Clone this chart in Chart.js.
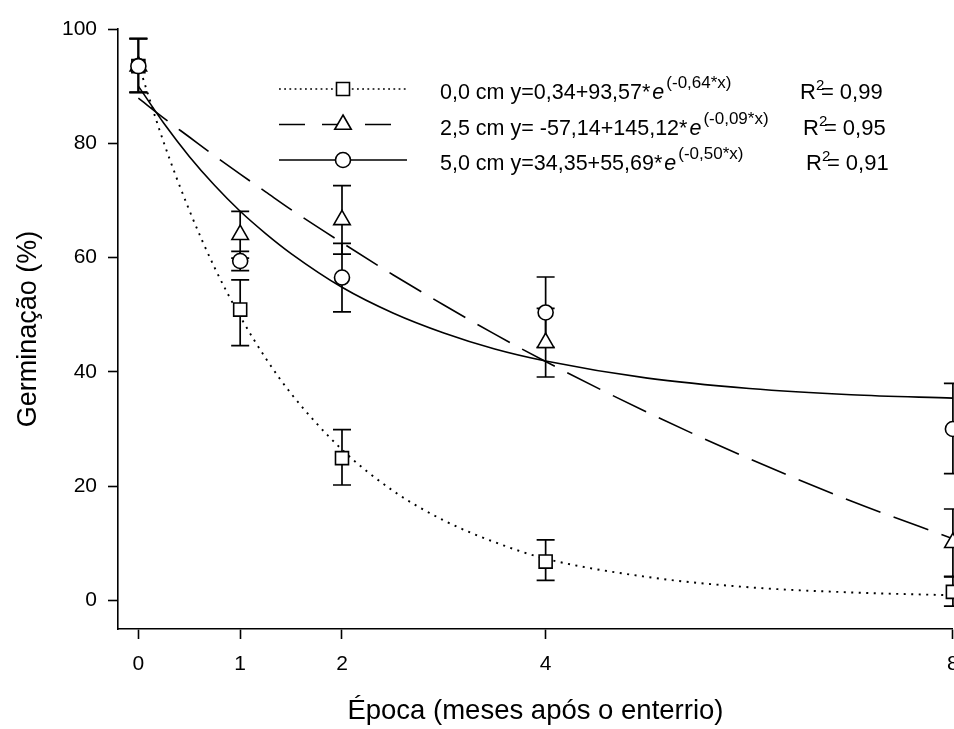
<!DOCTYPE html>
<html>
<head>
<meta charset="utf-8">
<script src="https://cdn.jsdelivr.net/npm/chart.js@4.4.0/dist/chart.umd.min.js"></script>
<style>
html,body{margin:0;padding:0;background:#fff;overflow:hidden}
#wrap{width:954px;height:729px;position:relative;overflow:hidden}
</style>
</head>
<body>
<div id="wrap"><canvas id="c" width="964" height="729"></canvas></div>
<script>
// ---- data ----
const epochs = [0, 1, 2, 4, 8];
const xTicks = [0, 1, 2, 4, 8];
const yTicks = [0, 20, 40, 60, 80, 100];

const germ00 = [93.5, 50.9, 24.9, 6.8, 1.5];
const germ00Low = [88.9, 44.6, 20.2, 3.5, -1.0];
const germ00High = [98.3, 56.1, 29.9, 10.6, 4.1];

const germ25 = [93.5, 64.0, 66.6, 45.1, 10.1];
const germ25Low = [88.9, 59.9, 60.6, 39.1, 4.2];
const germ25High = [98.3, 68.1, 72.6, 51.1, 16.0];

const germ50 = [93.5, 59.4, 56.5, 50.4, 30.0];
const germ50Low = [88.9, 57.7, 50.5, 44.3, 22.2];
const germ50High = [98.3, 61.1, 62.5, 56.6, 38.0];

// fitted curves
const curveX = [0, 0.25, 0.5, 0.75, 1, 1.25, 1.5, 2, 2.5, 3, 3.5, 4, 5, 6, 7, 8];
const fit00 = [93.9, 80.1, 68.3, 58.2, 49.7, 42.4, 36.2, 26.4, 19.2, 14.0, 10.2, 7.3, 4.1, 2.3, 1.4, 0.9];
const fit25 = [87.9, 84.4, 81.1, 77.8, 74.6, 71.5, 68.4, 62.6, 57.0, 51.7, 46.6, 41.8, 32.9, 24.8, 17.4, 10.8];
const fit50 = [90.0, 83.5, 77.7, 72.6, 68.1, 64.2, 60.7, 54.8, 50.3, 46.8, 44.0, 41.9, 38.9, 37.1, 36.0, 35.4];

const seriesLabels = ['0,0 cm', '2,5 cm', '5,0 cm'];
const eqMain = ['y=0,34+93,57*', 'y= -57,14+145,12*', 'y=34,35+55,69*'];
const eqExp = ['(-0,64*x)', '(-0,09*x)', '(-0,50*x)'];
const r2Values = ['0,99', '0,95', '0,91'];

const xTitle = 'Época (meses após o enterrio)';
const yTitle = 'Germinação (%)';

// ---- presentation ----
const FAM = '"Liberation Sans", Arial, Helvetica, sans-serif';
const groups = [
  {vals: germ00, lo: germ00Low, hi: germ00High},
  {vals: germ25, lo: germ25Low, hi: germ25High},
  {vals: germ50, lo: germ50Low, hi: germ50High}
];

function pts(xs, ys) { return xs.map((v, i) => ({x: v, y: ys[i]})); }

function drawMarker(ctx, style, x, y) {
  ctx.save();
  ctx.fillStyle = '#fff';
  ctx.strokeStyle = '#000';
  ctx.lineWidth = 1.6;
  ctx.setLineDash([]);
  ctx.beginPath();
  if (style === 'rect') {
    ctx.rect(x - 6.5, y - 6.5, 13, 13);
  } else if (style === 'triangle') {
    const r = 9.5;
    ctx.moveTo(x, y - r);
    ctx.lineTo(x + r * Math.sin(2 * Math.PI / 3), y + r / 2);
    ctx.lineTo(x - r * Math.sin(2 * Math.PI / 3), y + r / 2);
    ctx.closePath();
  } else {
    ctx.arc(x, y, 7.5, 0, Math.PI * 2);
  }
  ctx.fill();
  ctx.stroke();
  ctx.restore();
}

const errorBars = {
  id: 'errorBars',
  beforeDatasetsDraw(chart) {
    const {ctx, scales: {x, y}} = chart;
    ctx.save();
    ctx.strokeStyle = '#000';
    ctx.lineWidth = 1.7;
    groups.forEach(g => {
      epochs.forEach((e, i) => {
        const px = x.getPixelForValue(e);
        const pl = y.getPixelForValue(g.lo[i]);
        const ph = y.getPixelForValue(g.hi[i]);
        ctx.beginPath();
        ctx.moveTo(px, pl); ctx.lineTo(px, ph);
        ctx.moveTo(px - 9, pl); ctx.lineTo(px + 9, pl);
        ctx.moveTo(px - 9, ph); ctx.lineTo(px + 9, ph);
        ctx.stroke();
      });
    });
    ctx.restore();
  }
};

const legendPlugin = {
  id: 'customLegend',
  afterDraw(chart) {
    const ctx = chart.ctx;
    const rowsY = [89, 124.5, 160];
    const styles = ['rect', 'triangle', 'circle'];
    const dashes = [[1.8, 3.4], [26, 17], []];
    const r2X = [800, 803, 806];
    ctx.save();
    rowsY.forEach((ry, i) => {
      ctx.strokeStyle = '#000';
      ctx.lineWidth = 1.6;
      ctx.setLineDash(dashes[i]);
      ctx.beginPath();
      ctx.moveTo(279, ry); ctx.lineTo(407, ry);
      ctx.stroke();
      ctx.setLineDash([]);
      drawMarker(ctx, styles[i], 343, ry);

      const base = ry + 10;
      ctx.fillStyle = '#000';
      ctx.textBaseline = 'alphabetic';
      ctx.textAlign = 'left';
      ctx.font = '21.5px ' + FAM;
      let tx = 440;
      const t1 = seriesLabels[i] + ' ' + eqMain[i];
      ctx.fillText(t1, tx, base);
      tx += ctx.measureText(t1).width + 2;
      ctx.font = 'italic 21.5px ' + FAM;
      ctx.fillText('e', tx, base);
      tx += ctx.measureText('e').width + 2;
      ctx.font = '17px ' + FAM;
      ctx.fillText(eqExp[i], tx, base - 11);

      ctx.font = '22px ' + FAM;
      let rx = r2X[i];
      ctx.fillText('R', rx, base);
      rx += ctx.measureText('R').width;
      ctx.font = '15px ' + FAM;
      ctx.fillText('2', rx, base - 9);
      rx += 5;
      ctx.font = '22px ' + FAM;
      ctx.fillText('= ' + r2Values[i], rx, base);
    });
    ctx.restore();
  }
};

const curveCommon = {
  type: 'line', pointRadius: 0, borderColor: '#000', borderWidth: 1.6,
  fill: false, cubicInterpolationMode: 'monotone', order: 2
};
const markCommon = {
  type: 'line', showLine: false, pointRadius: 7.5, pointBackgroundColor: '#fff',
  pointBorderColor: '#000', pointBorderWidth: 1.6, clip: false, order: 1
};

new Chart(document.getElementById('c'), {
  data: {
    datasets: [
      Object.assign({}, curveCommon, {label: 'fit 0,0', data: pts(curveX, fit00), borderDash: [2, 5.5], borderWidth: 1.9}),
      Object.assign({}, curveCommon, {label: 'fit 2,5', data: pts(curveX, fit25), borderDash: [37, 14]}),
      Object.assign({}, curveCommon, {label: 'fit 5,0', data: pts(curveX, fit50)}),
      Object.assign({}, markCommon, {label: seriesLabels[0], data: pts(epochs, germ00), pointStyle: 'rect', pointRadius: 9.2}),
      Object.assign({}, markCommon, {label: seriesLabels[1], data: pts(epochs, germ25), pointStyle: 'triangle', pointRadius: 9.5}),
      Object.assign({}, markCommon, {label: seriesLabels[2], data: pts(epochs, germ50), pointStyle: 'circle', pointRadius: 7.5, order: 0})
    ]
  },
  options: {
    responsive: false,
    animation: false,
    devicePixelRatio: 1,
    layout: {padding: {left: 0, right: 2, top: 29, bottom: 0}},
    plugins: {legend: {display: false}, tooltip: {enabled: false}},
    scales: {
      x: {
        type: 'linear', min: -0.2, max: 8,
        afterBuildTicks: s => { s.ticks = xTicks.map(v => ({value: v})); },
        afterFit: s => { s.paddingLeft = 0; s.paddingRight = 0; s.height = 100; },
        grid: {drawOnChartArea: false, drawTicks: true, tickLength: 10, color: '#000', tickWidth: 1.6},
        border: {color: '#000', width: 1.6},
        ticks: {color: '#000', font: {family: FAM, size: 21}, padding: 13, maxRotation: 0, autoSkip: false,
                callback: v => String(v)},
        title: {display: true, text: xTitle, color: '#000', font: {family: FAM, size: 27.5}, padding: {top: 0, bottom: 1}}
      },
      y: {
        type: 'linear', min: -5, max: 100,
        afterBuildTicks: s => { s.ticks = yTicks.map(v => ({value: v})); },
        afterFit: s => { s.paddingTop = 0; s.paddingBottom = 0; s.width = 118; },
        grid: {drawOnChartArea: false, drawTicks: true, tickLength: 10, color: '#000', tickWidth: 1.6},
        border: {color: '#000', width: 1.6},
        ticks: {color: '#000', font: {family: FAM, size: 21}, padding: 11, callback: v => String(v)},
        title: {display: true, text: yTitle, color: '#000', font: {family: FAM, size: 27}, padding: {top: 12, bottom: 0}}
      }
    }
  },
  plugins: [errorBars, legendPlugin]
});
</script>
</body>
</html>
